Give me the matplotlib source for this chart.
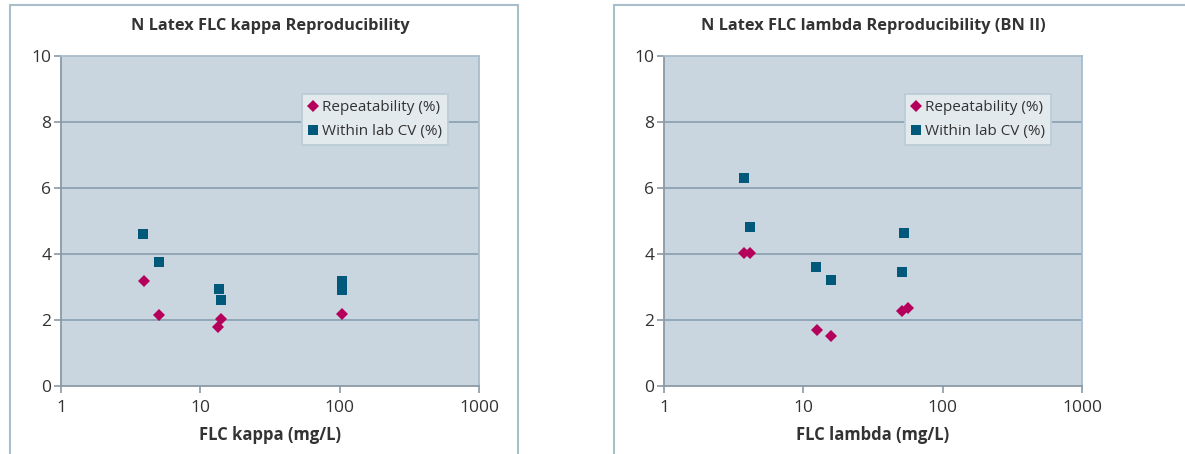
import matplotlib
matplotlib.use("Agg")
import matplotlib.pyplot as plt
from matplotlib.patches import Rectangle

plt.rcParams['font.family'] = ['Open Sans', 'DejaVu Sans']

# kappa panel
kappa_rep_x = [3.92, 5.04, 13.3, 14.0, 104]
kappa_rep_y = [3.18, 2.15, 1.80, 2.03, 2.17]
kappa_cv_x = [3.85, 5.04, 13.6, 14.0, 104, 104]
kappa_cv_y = [4.60, 3.75, 2.93, 2.60, 3.17, 2.90]

# lambda panel
lambda_rep_x = [3.73, 4.11, 12.5, 15.8, 51, 56.4]
lambda_rep_y = [4.02, 4.02, 1.70, 1.52, 2.28, 2.35]
lambda_cv_x = [3.73, 4.11, 12.3, 15.7, 53.1, 50.8]
lambda_cv_y = [6.29, 4.81, 3.60, 3.20, 4.63, 3.44]

titles = ["N Latex FLC kappa Reproducibility",
          "N Latex FLC lambda Reproducibility (BN II)"]
xlabels = ["FLC kappa (mg/L)", "FLC lambda (mg/L)"]
xticks = [1, 10, 100, 1000]
xticklabels = ["1", "10", "100", "1000"]
yticks = [0, 2, 4, 6, 8, 10]

W, H = 1185, 454
PLOT_BG = "#c9d6df"
GRID = "#8ea4b2"
RED = "#b5005b"
BLUE = "#00587a"
TXT = "#333333"
FRAME = "#a9bdca"

fig = plt.figure(figsize=(W / 100, H / 100), dpi=100)

panels = [
    (61, 10, 518, kappa_rep_x, kappa_rep_y, kappa_cv_x, kappa_cv_y),
    (664, 614, 1200, lambda_rep_x, lambda_rep_y, lambda_cv_x, lambda_cv_y),
]

for i, (ax_left, fr_l, fr_r, rx, ry, cx, cy) in enumerate(panels):
    # outer panel frame
    fig.patches.append(Rectangle((fr_l / W, -0.1), (fr_r - fr_l) / W, (H - 5) / H + 0.1,
                                 transform=fig.transFigure, fill=False,
                                 edgecolor=FRAME, linewidth=1.5, clip_on=False))

    ax = fig.add_axes([ax_left / W, (H - 386) / H, 418 / W, 330 / H])
    ax.set_facecolor(PLOT_BG)
    ax.set_xscale("log")
    ax.set_xlim(1, 1000)
    ax.set_ylim(0, 10)

    for y in [2, 4, 6, 8]:
        ax.axhline(y, color=GRID, linewidth=1.3, zorder=1)

    ax.plot(rx, ry, linestyle="none", marker="D", markersize=6.3,
            color=RED, markeredgewidth=0, zorder=3, label="Repeatability (%)")
    ax.plot(cx, cy, linestyle="none", marker="s", markersize=6.8,
            color=BLUE, markeredgewidth=0, zorder=3, label="Within lab CV (%)")

    ax.set_xticks(xticks)
    ax.set_xticklabels(xticklabels)
    ax.xaxis.set_minor_locator(matplotlib.ticker.NullLocator())
    ax.set_yticks(yticks)
    ax.tick_params(axis="both", colors="#8a9aa5", labelcolor=TXT,
                   labelsize=12.5, length=5, width=1.2)
    ax.tick_params(axis="x", pad=5)
    ax.tick_params(axis="y", pad=2)

    for side in ["left", "bottom"]:
        ax.spines[side].set_color("#8a9aa5")
        ax.spines[side].set_linewidth(1.3)
    for side in ["top", "right"]:
        ax.spines[side].set_color("#a9bccb")
        ax.spines[side].set_linewidth(1.3)

    ax.set_xlabel(xlabels[i], fontsize=12, fontweight="bold", color=TXT, labelpad=7)
    ax.set_title(titles[i], fontsize=11.8, fontweight="bold", color=TXT, pad=18.5)

    leg = ax.legend(loc="upper left", bbox_to_anchor=(0.577, 0.885),
                    fontsize=11, frameon=True, fancybox=False,
                    handlelength=0.6, handletextpad=0.3, borderpad=0.4,
                    labelspacing=0.6, borderaxespad=0)
    leg.get_frame().set_facecolor("#e3eaee")
    leg.get_frame().set_edgecolor("#bccdd8")
    leg.get_frame().set_linewidth(1.3)
    leg.get_frame().set_alpha(1)
    for t in leg.get_texts():
        t.set_color(TXT)

fig.savefig("out.png", dpi=100)
